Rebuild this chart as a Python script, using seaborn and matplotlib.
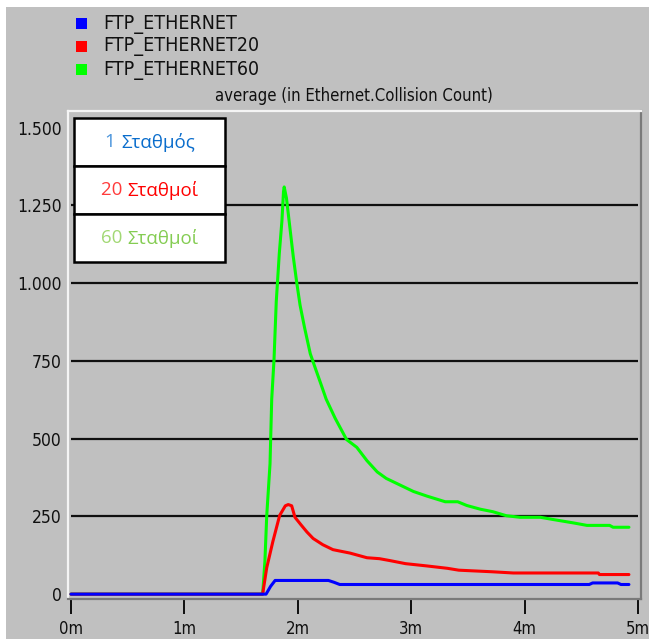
import matplotlib
matplotlib.use("Agg")
import matplotlib.pyplot as plt
from matplotlib import font_manager
from matplotlib.patches import Rectangle
import numpy as np
import pandas as pd
import seaborn as sns

# Collision count averages over simulated time (minutes)
t_eth1 = [0, 1.72, 1.76, 1.80, 2.27, 2.32, 2.37, 4.57, 4.60, 4.82, 4.85, 4.92]
v_eth1 = [0, 0, 25, 44, 44, 38, 31, 31, 36, 36, 31, 31]

t_eth20 = [0, 1.69, 1.726, 1.78, 1.84, 1.89, 1.916, 1.946, 1.975, 2.03, 2.08,
           2.135, 2.22, 2.31, 2.46, 2.61, 2.72, 2.81, 2.95, 3.13, 3.32, 3.42,
           3.71, 3.9, 4.65, 4.66, 4.92]
v_eth20 = [0, 0, 85, 169, 253, 284, 288, 284, 247, 222, 200,
           179, 159, 143, 132, 117, 114, 108, 98, 91, 83, 77,
           72, 68, 68, 63, 63]

t_eth60 = [0, 1.69, 1.71, 1.726, 1.755, 1.77, 1.79, 1.81, 1.837, 1.86, 1.874,
           1.88, 1.9, 1.93, 1.96, 1.99, 2.02, 2.06, 2.11, 2.15, 2.21, 2.25,
           2.33, 2.43, 2.52, 2.61, 2.7, 2.78, 2.9, 3.02, 3.14, 3.3, 3.41, 3.49,
           3.61, 3.72, 3.84, 3.96, 4.14, 4.25, 4.43, 4.55, 4.75, 4.78, 4.92]
v_eth60 = [0, 0, 106, 252, 419, 627, 752, 940, 1096, 1200, 1294,
           1309, 1273, 1179, 1085, 1003, 929, 856, 773, 731, 669, 627,
           565, 497, 472, 429, 393, 372, 351, 330, 315, 297, 297, 285,
           273, 265, 252, 247, 247, 240, 229, 221, 221, 215, 215]

series_names = ["FTP_ETHERNET", "FTP_ETHERNET20", "FTP_ETHERNET60"]
series_colors = ["#0000ff", "#ff0000", "#00ff00"]
y_ticks = [0, 250, 500, 750, 1000, 1250, 1500]
y_tick_labels = ["0", "250", "500", "750", "1.000", "1.250", "1.500"]
x_ticks = [0, 1, 2, 3, 4, 5]
x_tick_labels = ["0m", "1m", "2m", "3m", "4m", "5m"]
title_text = "average (in Ethernet.Collision Count)"
box_counts = ["1", "20", "60"]
box_words = ["Σταθμός", "Σταθμοί", "Σταθμοί"]
box_count_colors = ["#4b95dc", "#ff3b3b", "#a2d874"]
box_word_colors = ["#0a6dcc", "#ff0000", "#84cc52"]

df = pd.concat([
    pd.DataFrame({"t": t_eth1, "v": v_eth1, "series": series_names[0]}),
    pd.DataFrame({"t": t_eth20, "v": v_eth20, "series": series_names[1]}),
    pd.DataFrame({"t": t_eth60, "v": v_eth60, "series": series_names[2]}),
], ignore_index=True)

sns.set_style("white")
installed = {f.name for f in font_manager.fontManager.ttflist}
ui_font = "Liberation Sans Narrow" if "Liberation Sans Narrow" in installed else "DejaVu Sans"
box_font = "Open Sans"
plt.rcParams["font.family"] = [ui_font, "DejaVu Sans"]
plt.rcParams["font.stretch"] = "condensed"

W, H = 649, 639
fig = plt.figure(figsize=(W / 100, H / 100), dpi=100, facecolor="white")

def fx(px):
    return px / W

def fy(py):
    return 1 - py / H

# grey panel behind everything
fig.patches.append(Rectangle((fx(6), 0), fx(W - 6), fy(7), transform=fig.transFigure,
                             facecolor="#c0c0c0", edgecolor="none", zorder=-10))

ax = fig.add_axes([fx(68), fy(599), fx(641 - 68), fy(111) - fy(599)])
ax.set_facecolor("#c0c0c0")

x_per_px = 5 / (638 - 71)
y_per_px = 1250 / (594 - 194)
ax.set_xlim(-3 * x_per_px, 5 + 3 * x_per_px)
ax.set_ylim(-5 * y_per_px, 1500 + 17 * y_per_px)

# horizontal grid
for yv in y_ticks[1:-1]:
    ax.plot([0, 5], [yv, yv], color="#101010", lw=1.6, zorder=1, solid_capstyle="butt")

sns.lineplot(data=df, x="t", y="v", hue="series",
             hue_order=series_names[::-1], palette=dict(zip(series_names, series_colors)),
             estimator=None, sort=False, legend=False, linewidth=2.2, ax=ax, zorder=3)

ax.set_xlabel("")
ax.set_ylabel("")
ax.set_xticks(x_ticks)
ax.set_xticklabels(x_tick_labels, fontsize=12)
ax.set_yticks(y_ticks)
ax.set_yticklabels(y_tick_labels, fontsize=12.5)
ax.tick_params(axis="x", bottom=True, direction="out", length=11, width=1.3,
               color="black", pad=4, labelcolor="#101010")
ax.tick_params(axis="y", left=False, length=0, pad=4.5, labelcolor="#101010")

for side in ["top", "left"]:
    ax.spines[side].set_color("#f4f4f4")
    ax.spines[side].set_linewidth(1.6)
for side in ["right", "bottom"]:
    ax.spines[side].set_color("#7a7a7a")
    ax.spines[side].set_linewidth(1.6)

# chart title
fig.text(fx(354), fy(96), title_text, ha="center", va="center", fontsize=12, color="#101010")

# series legend
for i, (name, col) in enumerate(zip(series_names, series_colors)):
    cy = 24 + i * 23
    fig.patches.append(Rectangle((fx(76), fy(cy + 5)), fx(11), fy(cy - 6) - fy(cy + 5),
                                 transform=fig.transFigure, facecolor=col, edgecolor="none"))
    fig.text(fx(103), fy(cy), name, ha="left", va="center", fontsize=14, color="#101010")

# station-count annotation boxes, each label centred as a whole
renderer = fig.canvas.get_renderer()
for i in range(3):
    top = 118 + i * 48
    fig.patches.append(Rectangle((fx(74), fy(top + 48)), fx(225 - 74), fy(top) - fy(top + 48),
                                 transform=fig.transFigure, facecolor="white",
                                 edgecolor="black", linewidth=1.8, zorder=5))
    cy = fy(top + 24)
    cnt = fig.text(0, cy, box_counts[i] + " ", ha="left", va="center", fontsize=13.5,
                   family=[box_font, "DejaVu Sans"], fontstretch="normal",
                   color=box_count_colors[i], zorder=6)
    wrd = fig.text(0, cy, box_words[i], ha="left", va="center", fontsize=13.5,
                   family=[box_font, "DejaVu Sans"], fontstretch="normal",
                   color=box_word_colors[i], zorder=6)
    w1 = cnt.get_window_extent(renderer).width
    w2 = wrd.get_window_extent(renderer).width
    start = 150 - (w1 + w2) / 2
    cnt.set_x(fx(start))
    wrd.set_x(fx(start + w1))

fig.savefig("out.png", dpi=100, facecolor="white")
